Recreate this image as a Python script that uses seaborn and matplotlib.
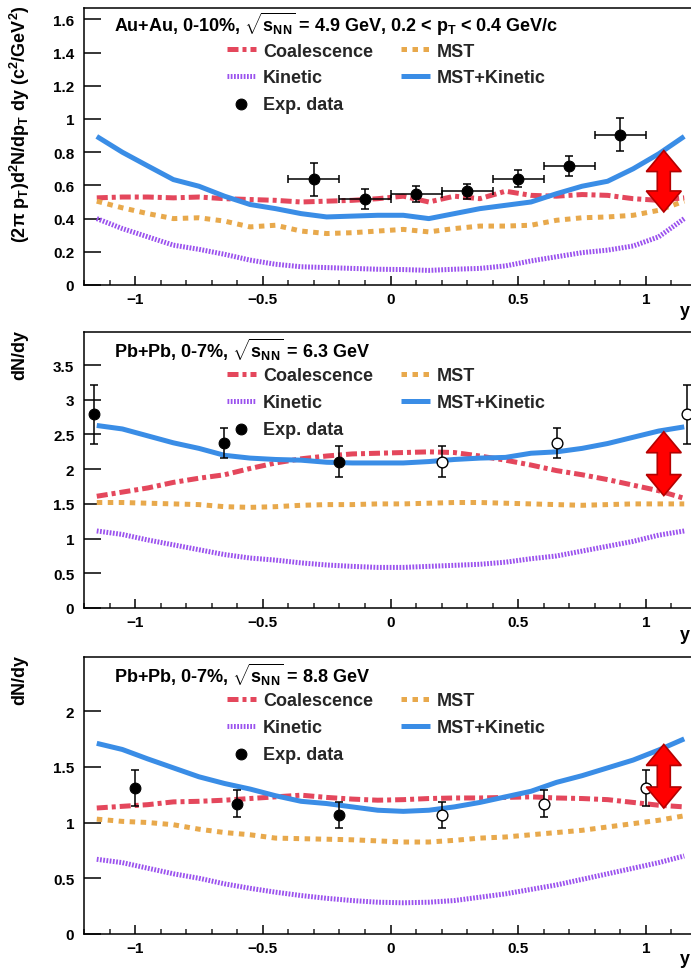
import numpy as np
import pandas as pd
import seaborn as sns
import matplotlib
matplotlib.use("Agg")
import matplotlib.pyplot as plt
from matplotlib.patches import Polygon
from matplotlib.transforms import IdentityTransform
from matplotlib.ticker import FixedLocator, FixedFormatter, MultipleLocator

# ---------------- data ----------------
rap = [-1.15, -1.05, -0.95, -0.85, -0.75, -0.65, -0.55, -0.45, -0.35, -0.25, -0.15, -0.05,
       0.05, 0.15, 0.25, 0.35, 0.45, 0.55, 0.65, 0.75, 0.85, 0.95, 1.05, 1.15]

# Panel 1: Au+Au 4.9 GeV
p1_coal = [0.525, 0.53, 0.53, 0.525, 0.53, 0.52, 0.515, 0.51, 0.50, 0.505, 0.51, 0.52,
           0.535, 0.50, 0.535, 0.52, 0.565, 0.54, 0.535, 0.545, 0.54, 0.52, 0.51, 0.525]
p1_mst = [0.505, 0.465, 0.43, 0.40, 0.405, 0.385, 0.35, 0.36, 0.325, 0.31, 0.315, 0.325,
          0.335, 0.32, 0.34, 0.355, 0.355, 0.36, 0.39, 0.405, 0.41, 0.42, 0.45, 0.505]
p1_kin = [0.40, 0.34, 0.29, 0.24, 0.215, 0.185, 0.15, 0.125, 0.11, 0.105, 0.10, 0.095,
          0.093, 0.088, 0.095, 0.10, 0.115, 0.145, 0.17, 0.195, 0.21, 0.235, 0.29, 0.40]
p1_mstk = [0.895, 0.80, 0.717, 0.635, 0.595, 0.535, 0.485, 0.46, 0.43, 0.41, 0.415, 0.42,
           0.42, 0.40, 0.43, 0.46, 0.48, 0.50, 0.55, 0.595, 0.625, 0.70, 0.79, 0.895]
p1_x = [-0.3, -0.1, 0.1, 0.3, 0.5, 0.7, 0.9]
p1_y = [0.636, 0.517, 0.547, 0.564, 0.64, 0.715, 0.905]
p1_yerr = [0.10, 0.06, 0.05, 0.045, 0.05, 0.06, 0.10]
p1_xerr = [0.1, 0.1, 0.1, 0.1, 0.1, 0.1, 0.1]

# Panel 2: Pb+Pb 6.3 GeV
p2_coal = [1.61, 1.67, 1.73, 1.81, 1.87, 1.92, 2.01, 2.09, 2.15, 2.19, 2.22, 2.23,
           2.24, 2.25, 2.24, 2.19, 2.13, 2.06, 1.98, 1.92, 1.85, 1.77, 1.69, 1.58]
p2_mst = [1.52, 1.52, 1.51, 1.50, 1.49, 1.46, 1.45, 1.46, 1.48, 1.49, 1.49, 1.50,
          1.50, 1.51, 1.52, 1.52, 1.51, 1.50, 1.49, 1.48, 1.49, 1.50, 1.50, 1.50]
p2_kin = [1.11, 1.06, 0.98, 0.91, 0.84, 0.77, 0.72, 0.69, 0.65, 0.62, 0.60, 0.585,
          0.585, 0.60, 0.615, 0.63, 0.66, 0.71, 0.75, 0.82, 0.89, 0.96, 1.05, 1.11]
p2_mstk = [2.63, 2.58, 2.48, 2.38, 2.30, 2.20, 2.16, 2.14, 2.13, 2.10, 2.09, 2.09,
           2.09, 2.11, 2.14, 2.16, 2.17, 2.23, 2.25, 2.30, 2.37, 2.46, 2.55, 2.61]
p2_x_meas = [-1.16, -0.65, -0.2]
p2_x_refl = [0.2, 0.65, 1.16]
p2_y_meas = [2.79, 2.38, 2.11]
p2_y_refl = [2.11, 2.38, 2.79]
p2_err = [0.43, 0.22, 0.22]

# Panel 3: Pb+Pb 8.8 GeV
p3_coal = [1.13, 1.145, 1.16, 1.185, 1.19, 1.20, 1.215, 1.23, 1.245, 1.225, 1.21, 1.20,
           1.205, 1.215, 1.22, 1.22, 1.225, 1.23, 1.22, 1.215, 1.205, 1.18, 1.155, 1.14]
p3_mst = [1.03, 1.01, 1.00, 0.98, 0.94, 0.91, 0.89, 0.86, 0.855, 0.85, 0.845, 0.835,
          0.825, 0.825, 0.84, 0.86, 0.87, 0.89, 0.91, 0.93, 0.96, 0.99, 1.02, 1.06]
p3_kin = [0.67, 0.64, 0.59, 0.54, 0.50, 0.45, 0.41, 0.375, 0.345, 0.32, 0.30, 0.285,
          0.28, 0.285, 0.30, 0.33, 0.36, 0.40, 0.44, 0.49, 0.54, 0.59, 0.64, 0.70]
p3_mstk = [1.71, 1.655, 1.57, 1.49, 1.41, 1.35, 1.30, 1.24, 1.19, 1.17, 1.14, 1.11,
           1.10, 1.11, 1.14, 1.18, 1.23, 1.28, 1.36, 1.42, 1.49, 1.56, 1.65, 1.75]
p3_x_meas = [-1.0, -0.6, -0.2]
p3_x_refl = [0.2, 0.6, 1.0]
p3_y_meas = [1.31, 1.17, 1.07]
p3_y_refl = [1.07, 1.17, 1.31]
p3_err = [0.165, 0.125, 0.115]

# arrows (x, low, high)
arrow_x = 1.07
arrow_lo = [0.44, 1.62, 1.13]
arrow_hi = [0.81, 2.54, 1.70]

titles = [r"Au+Au, 0-10%, $\sqrt{s_{NN}}$ = 4.9 GeV, 0.2 < p$_{T}$ < 0.4 GeV/c",
          r"Pb+Pb, 0-7%, $\sqrt{s_{NN}}$ = 6.3 GeV",
          r"Pb+Pb, 0-7%, $\sqrt{s_{NN}}$ = 8.8 GeV"]
ylabels = [r"(2$\pi$ p$_{T}$)d$^{2}$N/dp$_{T}$ dy (c$^{2}$/GeV$^{2}$)", "dN/dy", "dN/dy"]
ymax = [1.67, 3.97, 2.48]
yticks = [[0, 0.2, 0.4, 0.6, 0.8, 1.0, 1.2, 1.4, 1.6],
          [0, 0.5, 1.0, 1.5, 2.0, 2.5, 3.0, 3.5],
          [0, 0.5, 1.0, 1.5, 2.0]]
yticklabels = [["0", "0.2", "0.4", "0.6", "0.8", "1", "1.2", "1.4", "1.6"],
               ["0", "0.5", "1", "1.5", "2", "2.5", "3", "3.5"],
               ["0", "0.5", "1", "1.5", "2"]]
xticks = [-1, -0.5, 0, 0.5, 1]
xticklabels = ["\u22121", "\u22120.5", "0", "0.5", "1"]

# ---------------- style ----------------
sns.set_theme(style="ticks")
plt.rcParams["font.family"] = ["Liberation Sans", "DejaVu Sans"]
plt.rcParams["font.weight"] = "bold"
plt.rcParams["mathtext.fontset"] = "custom"
plt.rcParams["mathtext.rm"] = "Liberation Sans:bold"
plt.rcParams["mathtext.it"] = "Liberation Sans:bold"
plt.rcParams["mathtext.bf"] = "Liberation Sans:bold"
plt.rcParams["mathtext.sf"] = "Liberation Sans:bold"
plt.rcParams["mathtext.default"] = "regular"
plt.rcParams["axes.unicode_minus"] = True

C_COAL = "#e4475c"
C_MST = "#e8a94c"
C_KIN = "#9b52ee"
C_MSTK = "#3a8de6"
LW = 3.6
FS_TEXT = 13
FS_TICK = 11

W, H = 691, 970
fig = plt.figure(figsize=(W / 100, H / 100), dpi=100)

# axes geometry in pixels: (bottom_px, top_px)
geo = [(286, 286 - 1.67 * 166), (609, 609 - 3.97 * 69.4), (935, 935 - 2.48 * 111.5)]
left_px, width_px = 84, 613

panels = [
    (p1_coal, p1_mst, p1_kin, p1_mstk),
    (p2_coal, p2_mst, p2_kin, p2_mstk),
    (p3_coal, p3_mst, p3_kin, p3_mstk),
]
points = [
    dict(xf=p1_x, yf=p1_y, ef=p1_yerr, xe=p1_xerr, xo=[], yo=[], eo=[]),
    dict(xf=p2_x_meas, yf=p2_y_meas, ef=p2_err, xe=None, xo=p2_x_refl, yo=p2_y_refl, eo=p2_err[::-1]),
    dict(xf=p3_x_meas, yf=p3_y_meas, ef=p3_err, xe=None, xo=p3_x_refl, yo=p3_y_refl, eo=p3_err[::-1]),
]
xlabel_y = [312, 635, 960]

for i in range(3):
    bpx, tpx = geo[i]
    hpx = bpx - tpx
    ax = fig.add_axes([left_px / W, (H - bpx) / H, width_px / W, hpx / H])
    ax.set_xlim(-1.2, 1.2)
    ax.set_ylim(0, ymax[i])

    coal, mst, kin, mstk = panels[i]
    styles = [
        (coal, C_COAL, (0, (2.2, 0.8, 0.8, 0.8)), "Coalescence"),
        (mst, C_MST, (0, (1.1, 1.1)), "MST"),
        (kin, C_KIN, (0, (0.35, 0.3)), "Kinetic"),
        (mstk, C_MSTK, "-", "MST+Kinetic"),
    ]
    handles = {}
    for vals, col, ls, name in styles:
        df = pd.DataFrame({"y": rap, "v": vals})
        sns.lineplot(data=df, x="y", y="v", ax=ax, color=col, linewidth=LW,
                     linestyle=ls, estimator=None, sort=False, legend=False,
                     dash_capstyle="butt", solid_capstyle="butt")
        ln = ax.lines[-1]
        ln.set_label(name)
        handles[name] = ln

    pt = points[i]
    ax.errorbar(pt["xf"], pt["yf"], yerr=pt["ef"], xerr=pt["xe"], fmt="none",
                ecolor="black", elinewidth=1.1, capsize=3, capthick=1.1, zorder=4)
    sns.scatterplot(x=pt["xf"], y=pt["yf"], ax=ax, color="black", s=60,
                    edgecolor="black", linewidth=0.8, zorder=5, legend=False)
    handles["Exp. data"] = ax.collections[-1]
    if len(pt["xo"]):
        ax.errorbar(pt["xo"], pt["yo"], yerr=pt["eo"], fmt="none",
                    ecolor="black", elinewidth=1.1, capsize=3, capthick=1.1, zorder=4)
        sns.scatterplot(x=pt["xo"], y=pt["yo"], ax=ax, color="white", s=60,
                        edgecolor="black", linewidth=1.0, zorder=5, legend=False)

    ax.set_xlabel("")
    ax.set_ylabel("")
    ax.xaxis.set_major_locator(FixedLocator(xticks))
    ax.xaxis.set_major_formatter(FixedFormatter(xticklabels))
    ax.xaxis.set_minor_locator(MultipleLocator(0.1))
    ax.yaxis.set_major_locator(FixedLocator(yticks[i]))
    ax.yaxis.set_major_formatter(FixedFormatter(yticklabels[i]))
    ax.tick_params(axis="y", which="major", direction="in", length=12, width=1.1,
                   labelsize=FS_TICK, pad=7, left=True, right=False, colors="black")
    ax.tick_params(axis="x", which="major", direction="in", length=6.5, width=1.1,
                   labelsize=FS_TICK, pad=5, bottom=True, top=False, colors="black")
    ax.tick_params(axis="x", which="minor", direction="in", length=3.6, width=1.1,
                   bottom=True, top=False)
    for sp in ax.spines.values():
        sp.set_linewidth(1.1)
        sp.set_color("black")
        sp.set_visible(True)

    ax.text((114 - left_px) / width_px, 1 - 16 / hpx, titles[i], transform=ax.transAxes,
            ha="left", va="center", fontsize=FS_TEXT, color="black")

    order = ["Coalescence", "Kinetic", "Exp. data", "MST", "MST+Kinetic"]
    ax.legend(handles=[handles[k] for k in order], labels=order, ncol=2, frameon=False,
              loc="upper left", bbox_to_anchor=((227 - left_px) / width_px, 1 - 35 / hpx),
              borderpad=0, borderaxespad=0, handlelength=1.6, handletextpad=0.4,
              columnspacing=1.55, labelspacing=0.53, fontsize=FS_TEXT)

    # red double arrow (theoretical uncertainty)
    xc, y0 = ax.transData.transform((arrow_x, arrow_lo[i]))
    _, y1 = ax.transData.transform((arrow_x, arrow_hi[i]))
    hw, hl, sw = 17.5, 21, 6.5
    verts = [(xc, y1), (xc + hw, y1 - hl), (xc + sw, y1 - hl), (xc + sw, y0 + hl),
             (xc + hw, y0 + hl), (xc, y0), (xc - hw, y0 + hl), (xc - sw, y0 + hl),
             (xc - sw, y1 - hl), (xc - hw, y1 - hl)]
    fig.add_artist(Polygon(verts, closed=True, transform=IdentityTransform(),
                           facecolor="#ff0000", edgecolor="#b40000", linewidth=1.2,
                           zorder=6))

    fig.text(20 / W, 1 - (tpx - 3) / H, ylabels[i],
             rotation=90, ha="center", va="top", fontsize=FS_TEXT, color="black")
    fig.text(690 / W, 1 - xlabel_y[i] / H, "y", ha="right", va="center",
             fontsize=FS_TEXT, color="black")

fig.savefig("out.png", dpi=100)
